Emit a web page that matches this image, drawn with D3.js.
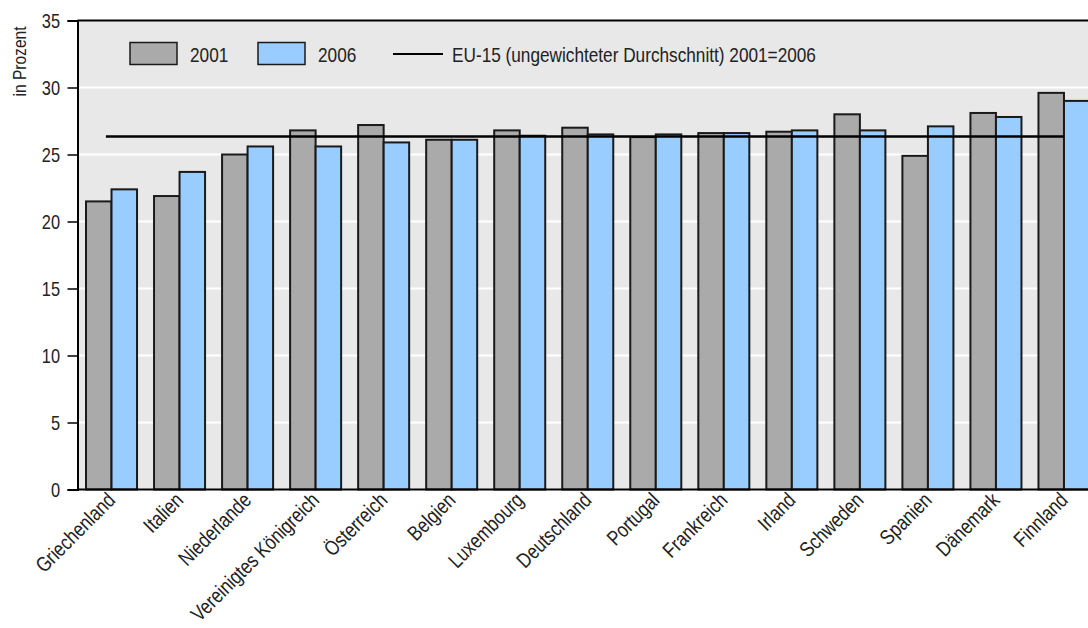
<!DOCTYPE html>
<html><head><meta charset="utf-8">
<script src="https://cdn.jsdelivr.net/npm/d3@7"></script>
<style>body{margin:0;background:#fff;} text{font-family:"Liberation Sans Narrow","Arial Narrow","Liberation Sans",sans-serif;}</style>
</head><body>
<svg id="c" width="1088" height="628"></svg>
<script>
const categories = ["Griechenland","Italien","Niederlande","Vereinigtes Königreich","Österreich","Belgien","Luxembourg","Deutschland","Portugal","Frankreich","Irland","Schweden","Spanien","Dänemark","Finnland"];
const values2001 = [21.5,21.9,25.0,26.8,27.2,26.1,26.8,27.0,26.3,26.6,26.7,28.0,24.9,28.1,29.6];
const values2006 = [22.4,23.7,25.6,25.6,25.9,26.1,26.4,26.5,26.5,26.6,26.8,26.8,27.1,27.8,29.0];
const euAverage = 26.35;
const yTicks = [0,5,10,15,20,25,30,35];
const seriesNames = ["2001","2006"];
const avgLabel = "EU-15 (ungewichteter Durchschnitt) 2001=2006";

const SX = 0.82; // narrow font emulation
const FS = 21;
const svg = d3.select("#c");
const L = 77.5, T = 20.5, B = 489.5, R = 1098;
const x = d3.scaleBand().domain(categories).range([L, R]).paddingInner(0.25).paddingOuter(0.125);
const y = d3.scaleLinear().domain([0,35]).range([B, T]);
const colors = ["#aaaaaa","#99ccff"];

svg.append("rect").attr("x",L).attr("y",T).attr("width",1088-L).attr("height",B-T).attr("fill","#e8e8e8");
svg.append("g").selectAll("line").data(yTicks.filter(d=>d>0&&d<35)).join("line")
  .attr("x1",L).attr("x2",1088).attr("y1",d=>y(d)).attr("y2",d=>y(d)).attr("stroke","#fff").attr("stroke-width",2);

const bw = x.bandwidth()/2;
const g = svg.append("g");
[values2001, values2006].forEach((vals,si)=>{
  g.selectAll(null).data(vals).join("rect")
    .attr("x",(d,i)=>x(categories[i])+si*bw)
    .attr("y",d=>y(d)).attr("width",bw).attr("height",d=>B-y(d))
    .attr("fill",colors[si]).attr("stroke","#1a1a1a").attr("stroke-width",2);
});

svg.append("line").attr("x1",x(categories[0])+bw*0.78).attr("x2",x(categories[categories.length-1])+bw)
  .attr("y1",y(euAverage)).attr("y2",y(euAverage)).attr("stroke","#000").attr("stroke-width",2.5);

// frame
svg.append("line").attr("x1",L).attr("x2",1088).attr("y1",T).attr("y2",T).attr("stroke","#000").attr("stroke-width",2);
svg.append("line").attr("x1",L).attr("x2",1088).attr("y1",B).attr("y2",B).attr("stroke","#000").attr("stroke-width",2);

const ya = svg.append("g").attr("transform",`translate(${L},0)`)
  .call(d3.axisLeft(y).tickValues(yTicks).tickSize(10).tickFormat(""));
ya.select(".domain").attr("stroke","#000").attr("stroke-width",2);
ya.selectAll(".tick line").attr("stroke","#000").attr("stroke-width",1.5);
svg.append("g").selectAll("text").data(yTicks).join("text")
  .attr("transform",d=>`translate(60,${y(d)+7}) scale(${SX},1)`)
  .attr("text-anchor","end").attr("font-size",20).attr("fill","#222").text(d=>d);

svg.append("text").attr("transform",`translate(25.5,61.5) rotate(-90) scale(${SX},1)`).attr("text-anchor","middle")
  .attr("font-size",19).attr("fill","#222").text("in Prozent");

svg.append("g").selectAll("text").data(categories).join("text")
  .attr("transform",d=>`translate(${x(d)+x.bandwidth()/2+5},${B+12}) rotate(-45) scale(${SX},1)`)
  .attr("text-anchor","end").attr("font-size",FS).attr("fill","#222").text(d=>d);

// legend
const lg = svg.append("g");
seriesNames.forEach((s,i)=>{
  lg.append("rect").attr("x",130+i*128).attr("y",42.5).attr("width",47).attr("height",22)
    .attr("fill",colors[i]).attr("stroke","#1a1a1a").attr("stroke-width",1.5);
  lg.append("text").attr("transform",`translate(${190+i*128},61.5) scale(${SX},1)`).attr("font-size",FS).attr("fill","#222").text(s);
});
lg.append("line").attr("x1",393).attr("x2",443).attr("y1",54).attr("y2",54).attr("stroke","#000").attr("stroke-width",2);
lg.append("text").attr("transform",`translate(452,61.5) scale(${SX},1)`).attr("font-size",FS).attr("fill","#222").text(avgLabel);
</script>
</body></html>
